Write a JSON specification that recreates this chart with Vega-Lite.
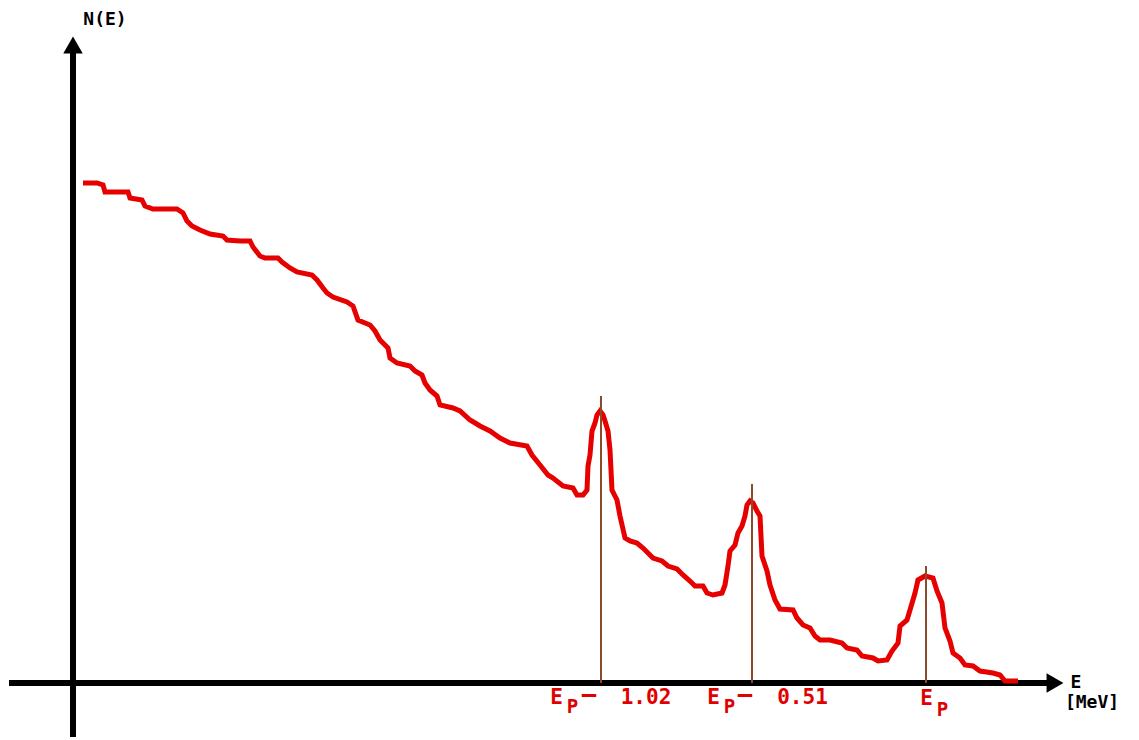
{
  "$schema": "https://vega.github.io/schema/vega-lite/v6.json",
  "width": 1139,
  "height": 740,
  "autosize": {"type": "fit", "contains": "padding"},
  "padding": 0,
  "background": "white",
  "config": {"view": {"stroke": null}},
  "datasets": {
    "curve": [
      {"E": 83, "N": 500}, {"E": 97, "N": 500}, {"E": 103, "N": 498}, {"E": 105, "N": 491},
      {"E": 128, "N": 491}, {"E": 130, "N": 485}, {"E": 142, "N": 483}, {"E": 145, "N": 477},
      {"E": 153, "N": 474}, {"E": 177, "N": 474}, {"E": 183, "N": 470}, {"E": 187, "N": 462},
      {"E": 192, "N": 457}, {"E": 200, "N": 453}, {"E": 210, "N": 449}, {"E": 223, "N": 447},
      {"E": 227, "N": 443}, {"E": 240, "N": 442}, {"E": 250, "N": 442}, {"E": 253, "N": 436},
      {"E": 260, "N": 427}, {"E": 265, "N": 425}, {"E": 278, "N": 425}, {"E": 282, "N": 421},
      {"E": 290, "N": 415}, {"E": 297, "N": 411}, {"E": 312, "N": 408}, {"E": 317, "N": 403},
      {"E": 323, "N": 395}, {"E": 327, "N": 390}, {"E": 333, "N": 386}, {"E": 347, "N": 381},
      {"E": 353, "N": 377}, {"E": 358, "N": 363}, {"E": 370, "N": 358}, {"E": 375, "N": 352},
      {"E": 380, "N": 343}, {"E": 388, "N": 335}, {"E": 390, "N": 325}, {"E": 397, "N": 320},
      {"E": 410, "N": 317}, {"E": 415, "N": 312}, {"E": 422, "N": 308}, {"E": 425, "N": 300},
      {"E": 430, "N": 293}, {"E": 437, "N": 287}, {"E": 440, "N": 278}, {"E": 453, "N": 275},
      {"E": 460, "N": 272}, {"E": 470, "N": 263}, {"E": 480, "N": 257}, {"E": 490, "N": 252},
      {"E": 500, "N": 245}, {"E": 510, "N": 240}, {"E": 527, "N": 237}, {"E": 532, "N": 228},
      {"E": 540, "N": 218}, {"E": 548, "N": 208}, {"E": 553, "N": 205}, {"E": 563, "N": 197},
      {"E": 573, "N": 195}, {"E": 577, "N": 188}, {"E": 583, "N": 188}, {"E": 587, "N": 193},
      {"E": 588, "N": 217}, {"E": 590, "N": 228}, {"E": 592, "N": 252}, {"E": 595, "N": 260},
      {"E": 597, "N": 268}, {"E": 600, "N": 272}, {"E": 603, "N": 268}, {"E": 605, "N": 262},
      {"E": 608, "N": 252}, {"E": 610, "N": 233}, {"E": 612, "N": 193}, {"E": 617, "N": 183},
      {"E": 620, "N": 167}, {"E": 625, "N": 145}, {"E": 630, "N": 142}, {"E": 637, "N": 140},
      {"E": 643, "N": 135}, {"E": 648, "N": 130}, {"E": 653, "N": 125}, {"E": 662, "N": 122},
      {"E": 668, "N": 117}, {"E": 677, "N": 114}, {"E": 683, "N": 108}, {"E": 690, "N": 102},
      {"E": 695, "N": 97}, {"E": 703, "N": 97}, {"E": 707, "N": 90}, {"E": 713, "N": 88},
      {"E": 722, "N": 90}, {"E": 725, "N": 98}, {"E": 728, "N": 117}, {"E": 730, "N": 132},
      {"E": 735, "N": 138}, {"E": 738, "N": 150}, {"E": 742, "N": 157}, {"E": 745, "N": 167},
      {"E": 747, "N": 178}, {"E": 750, "N": 182}, {"E": 753, "N": 180}, {"E": 757, "N": 172},
      {"E": 760, "N": 167}, {"E": 762, "N": 127}, {"E": 767, "N": 112}, {"E": 770, "N": 98},
      {"E": 775, "N": 83}, {"E": 780, "N": 74}, {"E": 793, "N": 73}, {"E": 797, "N": 65},
      {"E": 803, "N": 58}, {"E": 810, "N": 55}, {"E": 815, "N": 47}, {"E": 820, "N": 43},
      {"E": 830, "N": 43}, {"E": 842, "N": 40}, {"E": 847, "N": 35}, {"E": 857, "N": 33},
      {"E": 862, "N": 27}, {"E": 873, "N": 25}, {"E": 878, "N": 22}, {"E": 887, "N": 23},
      {"E": 892, "N": 32}, {"E": 898, "N": 40}, {"E": 900, "N": 57}, {"E": 907, "N": 63},
      {"E": 910, "N": 73}, {"E": 915, "N": 90}, {"E": 918, "N": 103}, {"E": 925, "N": 107},
      {"E": 933, "N": 105}, {"E": 937, "N": 92}, {"E": 942, "N": 80}, {"E": 945, "N": 55},
      {"E": 950, "N": 42}, {"E": 953, "N": 30}, {"E": 960, "N": 25}, {"E": 965, "N": 18},
      {"E": 973, "N": 17}, {"E": 980, "N": 12}, {"E": 993, "N": 10}, {"E": 1000, "N": 8},
      {"E": 1005, "N": 2}, {"E": 1018, "N": 2}
    ],
    "axes": [
      {"E": 9, "E2": 1050, "N": 0, "N2": 0},
      {"E": 73, "E2": 73, "N": -54, "N2": 632}
    ],
    "uparrow": [{"E": 73, "N": 638}],
    "rightarrow": [{"E": 1055, "N": 0}],
    "peaks": [
      {"E": 601, "base": 0, "top": 287},
      {"E": 752, "base": 0, "top": 199},
      {"E": 926, "base": 0, "top": 117}
    ],
    "redlabels": [
      {"t": "E", "E": 556.5, "N": -15},
      {"t": "1.02", "E": 646, "N": -15},
      {"t": "E", "E": 713.5, "N": -15},
      {"t": "0.51", "E": 802.5, "N": -15},
      {"t": "E", "E": 926.5, "N": -16}
    ],
    "dashes": [
      {"t": "–", "E": 589, "N": -12},
      {"t": "–", "E": 745, "N": -12}
    ],
    "subs": [
      {"t": "P", "E": 572.5, "N": -24},
      {"t": "P", "E": 729.5, "N": -24},
      {"t": "P", "E": 942.5, "N": -27}
    ],
    "blacklabels": [
      {"t": "N(E)", "E": 105, "N": 663},
      {"t": "E", "E": 1076, "N": 0},
      {"t": "[MeV]", "E": 1092, "N": -20}
    ]
  },
  "layer": [
    {
      "data": {"name": "axes"},
      "mark": {"type": "rule", "color": "black", "strokeWidth": 6},
      "encoding": {
        "x": {"field": "E", "type": "quantitative", "scale": {"domain": [0, 1139]}, "axis": null},
        "x2": {"field": "E2"},
        "y": {"field": "N", "type": "quantitative", "scale": {"domain": [-57, 683]}, "axis": null},
        "y2": {"field": "N2"}
      }
    },
    {
      "data": {"name": "uparrow"},
      "mark": {"type": "point", "shape": "triangle-up", "filled": true, "color": "black", "size": 380, "opacity": 1},
      "encoding": {
        "x": {"field": "E", "type": "quantitative", "scale": {"domain": [0, 1139]}, "axis": null},
        "y": {"field": "N", "type": "quantitative", "scale": {"domain": [-57, 683]}, "axis": null}
      }
    },
    {
      "data": {"name": "rightarrow"},
      "mark": {"type": "point", "shape": "triangle-right", "filled": true, "color": "black", "size": 380, "opacity": 1},
      "encoding": {
        "x": {"field": "E", "type": "quantitative", "scale": {"domain": [0, 1139]}, "axis": null},
        "y": {"field": "N", "type": "quantitative", "scale": {"domain": [-57, 683]}, "axis": null}
      }
    },
    {
      "data": {"name": "curve"},
      "mark": {"type": "line", "color": "#e60000", "strokeWidth": 5, "interpolate": "linear"},
      "encoding": {
        "x": {"field": "E", "type": "quantitative", "scale": {"domain": [0, 1139]}, "axis": null},
        "y": {"field": "N", "type": "quantitative", "scale": {"domain": [-57, 683]}, "axis": null}
      }
    },
    {
      "data": {"name": "peaks"},
      "mark": {"type": "rule", "color": "#8b4a2a", "strokeWidth": 2},
      "encoding": {
        "x": {"field": "E", "type": "quantitative", "scale": {"domain": [0, 1139]}, "axis": null},
        "y": {"field": "base", "type": "quantitative", "scale": {"domain": [-57, 683]}, "axis": null},
        "y2": {"field": "top"}
      }
    },
    {
      "data": {"name": "redlabels"},
      "mark": {"type": "text", "color": "#e00000", "font": "DejaVu Sans Mono", "fontWeight": "bold", "fontSize": 21, "align": "center", "baseline": "middle"},
      "encoding": {
        "x": {"field": "E", "type": "quantitative", "scale": {"domain": [0, 1139]}, "axis": null},
        "y": {"field": "N", "type": "quantitative", "scale": {"domain": [-57, 683]}, "axis": null},
        "text": {"field": "t"}
      }
    },
    {
      "data": {"name": "dashes"},
      "mark": {"type": "text", "color": "#e00000", "font": "DejaVu Sans Mono", "fontWeight": "bold", "fontSize": 24, "align": "center", "baseline": "middle"},
      "encoding": {
        "x": {"field": "E", "type": "quantitative", "scale": {"domain": [0, 1139]}, "axis": null},
        "y": {"field": "N", "type": "quantitative", "scale": {"domain": [-57, 683]}, "axis": null},
        "text": {"field": "t"}
      }
    },
    {
      "data": {"name": "subs"},
      "mark": {"type": "text", "color": "#e00000", "font": "DejaVu Sans Mono", "fontWeight": "bold", "fontSize": 19, "align": "center", "baseline": "middle"},
      "encoding": {
        "x": {"field": "E", "type": "quantitative", "scale": {"domain": [0, 1139]}, "axis": null},
        "y": {"field": "N", "type": "quantitative", "scale": {"domain": [-57, 683]}, "axis": null},
        "text": {"field": "t"}
      }
    },
    {
      "data": {"name": "blacklabels"},
      "mark": {"type": "text", "color": "black", "font": "DejaVu Sans Mono", "fontWeight": "bold", "fontSize": 18, "align": "center", "baseline": "middle"},
      "encoding": {
        "x": {"field": "E", "type": "quantitative", "scale": {"domain": [0, 1139]}, "axis": null},
        "y": {"field": "N", "type": "quantitative", "scale": {"domain": [-57, 683]}, "axis": null},
        "text": {"field": "t"}
      }
    }
  ]
}
